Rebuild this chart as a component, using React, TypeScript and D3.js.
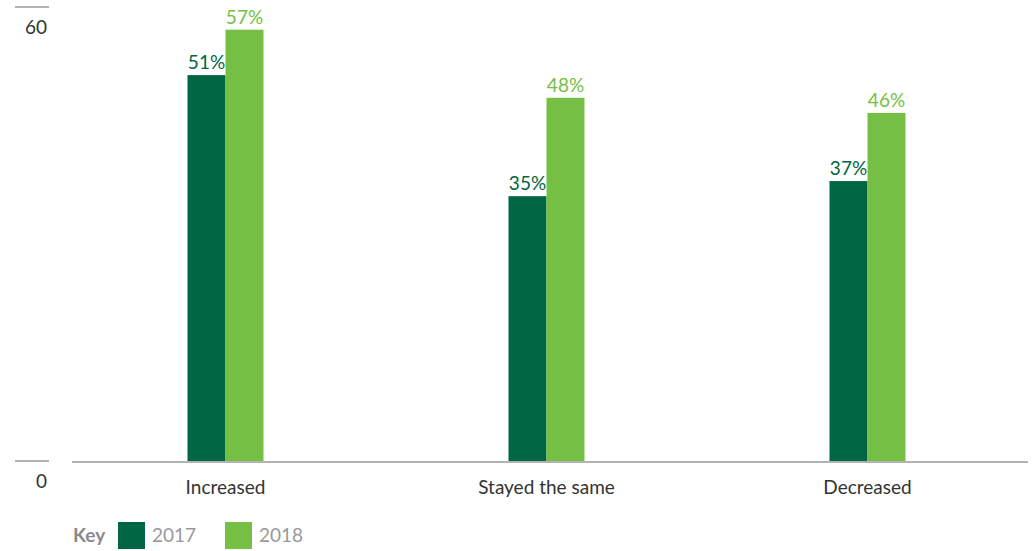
import React from "react";
import * as d3 from "d3";

const categories = ["Increased", "Stayed the same", "Decreased"];
const seriesNames = ["2017", "2018"];
const values2017 = [51, 35, 37];
const values2018 = [57, 48, 46];
const yTicks = [0, 60];

const colors = ["#006643", "#74BF44"];
const FONT = "Lato, 'Open Sans', sans-serif";

export default function App() {
  const W = 1036, H = 551;
  const x = d3.scaleBand<string>().domain(categories).range([65, 1028]);
  const y = d3.scaleLinear().domain([0, 60]).range([461, 7]);
  const barW = 38;
  const series = [values2017, values2018];

  return (
    <svg width={W} height={H} style={{ position: "absolute", left: 0, top: 0 }} fontFamily={FONT}>
      {yTicks.map((t) => (
        <g key={t}>
          <line x1={15} x2={49} y1={y(t)} y2={y(t)} stroke="#9a9a9a" strokeWidth={1.5} />
          <text x={47} y={y(t) + 27} textAnchor="end" fontSize={19} fill="#333">{t}</text>
        </g>
      ))}
      <line x1={72} x2={1028} y1={462} y2={462} stroke="#9a9a9a" strokeWidth={1.5} />
      {categories.map((c, i) => {
        const cx = x(c)! + x.bandwidth() / 2;
        return (
          <g key={c}>
            {series.map((vals, s) => {
              const bx = cx - barW + s * barW;
              return (
                <g key={s}>
                  <rect x={bx} y={y(vals[i])} width={barW} height={y(0) - y(vals[i])} fill={colors[s]} />
                  <text x={bx + barW / 2} y={y(vals[i]) - 6} textAnchor="middle" fontSize={19} fill={colors[s]}>{vals[i]}%</text>
                </g>
              );
            })}
            <text x={cx} y={494} textAnchor="middle" fontSize={19} fill="#333">{c}</text>
          </g>
        );
      })}
      <text x={73} y={542} fontSize={19} fontWeight="bold" fill="#8a8a8a">Key</text>
      {seriesNames.map((n, s) => (
        <g key={n}>
          <rect x={118 + s * 107} y={522} width={27} height={27} fill={colors[s]} />
          <text x={152 + s * 107} y={542} fontSize={19} fill="#999">{n}</text>
        </g>
      ))}
    </svg>
  );
}
